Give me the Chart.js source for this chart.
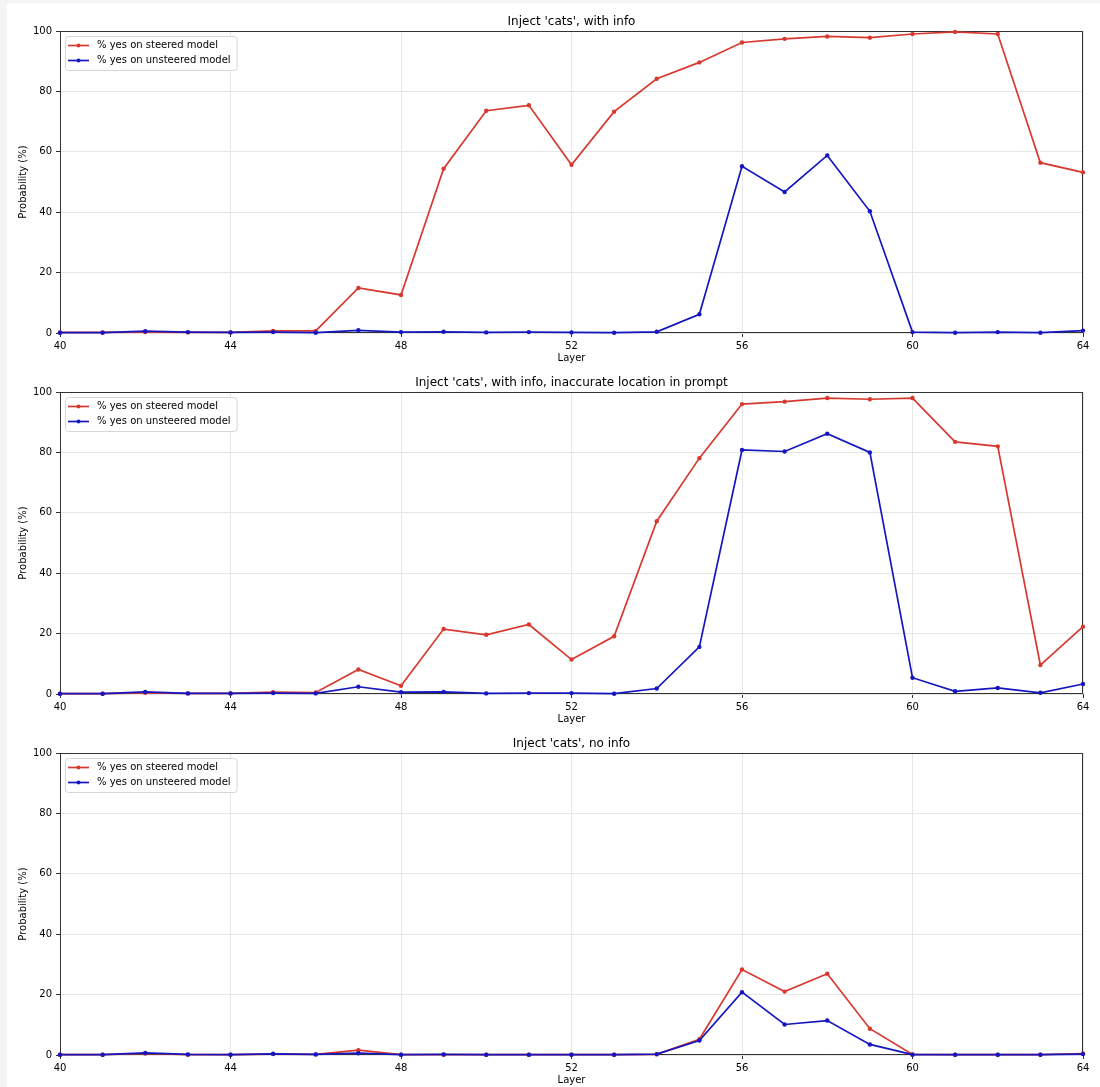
<!DOCTYPE html>
<html>
<head>
<meta charset="utf-8">
<script src="https://cdn.jsdelivr.net/npm/chart.js@4.4.1/dist/chart.umd.min.js"></script>
<style>
  html, body { margin: 0; padding: 0; background: #f4f4f4; }
  #page { position: absolute; left: 7px; top: 3px; width: 1093px; height: 1084px; background: #fff; }
  .panel { position: relative; width: 1093px; height: 361px; }
</style>
</head>
<body>
<div id="page">
  <div class="panel"><canvas id="chart1"></canvas></div>
  <div class="panel"><canvas id="chart2"></canvas></div>
  <div class="panel"><canvas id="chart3"></canvas></div>
</div>
<script>
const layers = [40, 41, 42, 43, 44, 45, 46, 47, 48, 49, 50, 51, 52, 53, 54, 55, 56, 57, 58, 59, 60, 61, 62, 63, 64];
const yTicks = [0, 20, 40, 60, 80, 100];
const xTicks = [40, 44, 48, 52, 56, 60, 64];

const titles = [
  "Inject 'cats', with info",
  "Inject 'cats', with info, inaccurate location in prompt",
  "Inject 'cats', no info"
];
const seriesLabels = ['% yes on steered model', '% yes on unsteered model'];

// with info
const steeredInfo   = [0.2, 0.2, 0.3, 0.2, 0.2, 0.7, 0.7, 14.9, 12.6, 54.4, 73.6, 75.4, 55.7, 73.3, 84.2, 89.6, 96.2, 97.4, 98.2, 97.8, 99.0, 99.7, 99.0, 56.4, 53.2];
const unsteeredInfo = [0.1, 0.1, 0.6, 0.3, 0.2, 0.3, 0.1, 0.9, 0.3, 0.4, 0.2, 0.3, 0.2, 0.1, 0.4, 6.2, 55.2, 46.7, 58.8, 40.3, 0.3, 0.1, 0.3, 0.1, 0.8];
// with info, inaccurate location
const steeredWrong   = [0.1, 0.1, 0.4, 0.2, 0.2, 0.6, 0.5, 8.1, 2.7, 21.5, 19.6, 23.0, 11.4, 19.1, 57.2, 78.1, 96.0, 96.8, 98.0, 97.6, 98.0, 83.5, 82.0, 9.6, 22.3];
const unsteeredWrong = [0.1, 0.1, 0.7, 0.2, 0.2, 0.3, 0.2, 2.4, 0.6, 0.7, 0.2, 0.3, 0.3, 0.1, 1.8, 15.6, 80.8, 80.3, 86.2, 80.0, 5.4, 0.9, 2.0, 0.4, 3.3];
// no info
const steeredNone   = [0.1, 0.1, 0.5, 0.1, 0.1, 0.3, 0.2, 1.6, 0.1, 0.1, 0.1, 0.1, 0.1, 0.1, 0.2, 5.2, 28.3, 21.0, 26.9, 8.7, 0.2, 0.1, 0.1, 0.1, 0.5];
const unsteeredNone = [0.1, 0.1, 0.7, 0.2, 0.1, 0.4, 0.2, 0.6, 0.1, 0.2, 0.1, 0.1, 0.1, 0.1, 0.3, 4.8, 20.8, 10.1, 11.4, 3.5, 0.1, 0.1, 0.1, 0.1, 0.3];

const RED = '#d8392f';
const BLUE = '#1616c0';

Chart.defaults.font.family = '"DejaVu Sans", sans-serif';
Chart.defaults.font.size = 10;
Chart.defaults.color = '#000';

// axes frame on all four sides
const frame = {
  id: 'frame',
  beforeDatasetsDraw(chart) {
    const { ctx, chartArea: a } = chart;
    ctx.save();
    ctx.strokeStyle = '#333';
    ctx.lineWidth = 1;
    ctx.strokeRect(Math.round(a.left) + 0.5, Math.round(a.top) + 0.5,
      Math.round(a.right - a.left) - 1, Math.round(a.bottom - a.top) - 1);
    ctx.restore();
  }
};

// matplotlib-like legend box in the upper left corner
const boxLegend = {
  id: 'boxLegend',
  afterDraw(chart) {
    const { ctx, chartArea: a } = chart;
    const sets = chart.data.datasets;
    ctx.save();
    ctx.font = '10px "DejaVu Sans", sans-serif';
    const textW = Math.max(...sets.map(d => ctx.measureText(d.label).width));
    const x0 = a.left + 5, y0 = a.top + 5;
    const w = 32 + textW + 6, h = 34;
    ctx.beginPath();
    ctx.roundRect(x0 + 0.5, y0 + 0.5, w, h, 3);
    ctx.fillStyle = 'rgba(255,255,255,0.85)';
    ctx.fill();
    ctx.strokeStyle = '#d6d6d6';
    ctx.lineWidth = 1;
    ctx.stroke();
    sets.forEach((d, i) => {
      const cy = y0 + 9.5 + i * 15;
      ctx.strokeStyle = d.borderColor;
      ctx.lineWidth = 1.7;
      ctx.beginPath();
      ctx.moveTo(x0 + 3, cy);
      ctx.lineTo(x0 + 24, cy);
      ctx.stroke();
      ctx.fillStyle = d.borderColor;
      ctx.beginPath();
      ctx.arc(x0 + 13.5, cy, 2, 0, Math.PI * 2);
      ctx.fill();
      ctx.fillStyle = '#000';
      ctx.textBaseline = 'middle';
      ctx.fillText(d.label, x0 + 32, cy);
    });
    ctx.restore();
  }
};

function points(values) {
  return layers.map((l, i) => ({ x: l, y: values[i] }));
}

function lineSet(label, values, color, order) {
  return {
    label: label,
    data: points(values),
    borderColor: color,
    backgroundColor: color,
    borderWidth: 1.7,
    pointRadius: 2.2,
    pointHoverRadius: 2.2,
    pointBorderWidth: 0,
    pointBackgroundColor: color,
    order: order,
    clip: false
  };
}

function makeChart(id, title, steered, unsteered) {
  return new Chart(document.getElementById(id), {
    type: 'line',
    data: {
      datasets: [
        lineSet(seriesLabels[0], steered, RED, 2),
        lineSet(seriesLabels[1], unsteered, BLUE, 1)
      ]
    },
    options: {
      responsive: true,
      maintainAspectRatio: false,
      animation: false,
      events: [],
      layout: { padding: { left: 10, right: 17, top: 0, bottom: 0 } },
      plugins: {
        legend: { display: false },
        tooltip: { enabled: false },
        title: {
          display: true,
          text: title,
          fullSize: false,
          color: '#000',
          font: { size: 12, weight: 'normal' },
          padding: { top: 12, bottom: 1.6 }
        }
      },
      scales: {
        x: {
          type: 'linear',
          min: 40,
          max: 64,
          afterFit(scale) { scale.height = 31; },
          afterBuildTicks(scale) { scale.ticks = xTicks.map(v => ({ value: v })); },
          ticks: { padding: 3, maxRotation: 0, color: '#000' },
          grid: { color: '#e6e6e6', tickColor: '#333', tickLength: 4 },
          border: { display: false },
          title: { display: true, text: 'Layer', color: '#000', padding: 0, font: { size: 10 } }
        },
        y: {
          min: 0,
          max: 100,
          afterFit(scale) { scale.width = 43; },
          afterBuildTicks(scale) { scale.ticks = yTicks.map(v => ({ value: v })); },
          ticks: { padding: 4, color: '#000' },
          grid: { color: '#e6e6e6', tickColor: '#333', tickLength: 4 },
          border: { display: false },
          title: { display: true, text: 'Probability (%)', color: '#000', padding: 0, font: { size: 10 } }
        }
      }
    },
    plugins: [frame, boxLegend]
  });
}

makeChart('chart1', titles[0], steeredInfo, unsteeredInfo);
makeChart('chart2', titles[1], steeredWrong, unsteeredWrong);
makeChart('chart3', titles[2], steeredNone, unsteeredNone);
</script>
</body>
</html>
